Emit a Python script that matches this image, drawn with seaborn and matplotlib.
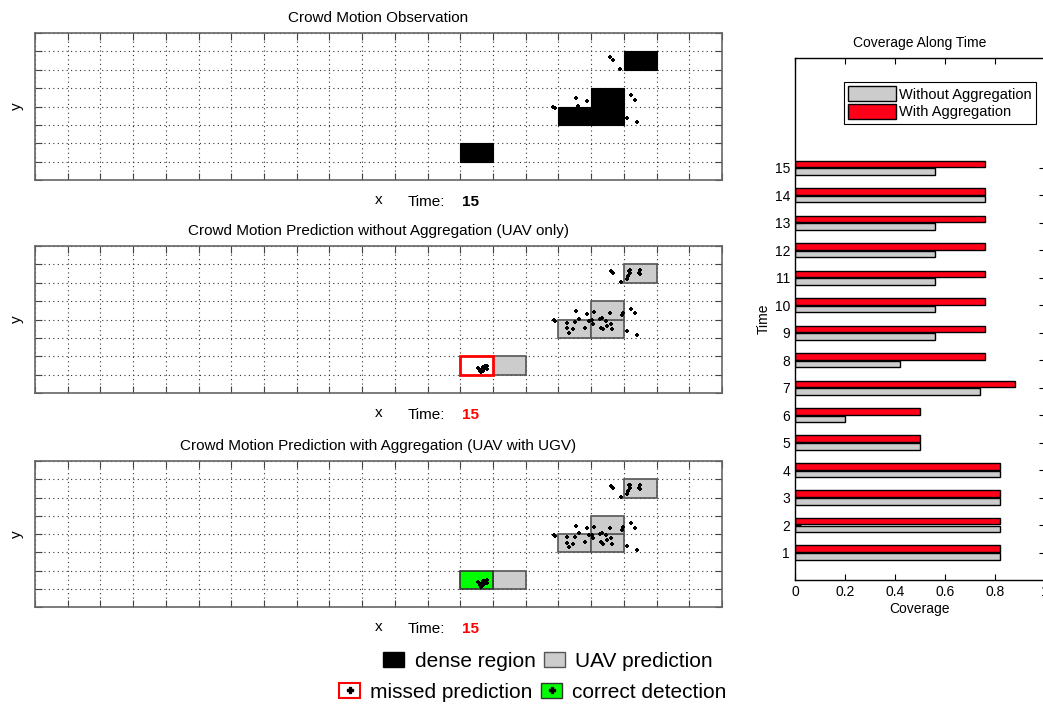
"""
Crowd motion maps at time 15 and coverage of the prediction along time.
"""

import matplotlib

matplotlib.use("Agg")

import matplotlib.pyplot as plt
import pandas as pd
import seaborn as sns
from matplotlib.lines import Line2D
from matplotlib.patches import Patch

# size of the crowd maps (cells)
n_cols = 21
n_rows = 8
time_now = 15

# dense cells seen at this time (lower-left corner of each cell)
dense_x = [18, 16, 17, 17, 13]
dense_y = [6, 3, 3, 4, 1]

# cells predicted by the UAV alone
uav_x = [18, 16, 17, 17, 14]
uav_y = [6, 3, 3, 4, 1]

# dense cell the UAV misses; found again once UGV data is aggregated
miss_x = [13]
miss_y = [1]

# people positions drawn on the observation map
obs_px = [17.58, 17.68, 17.89, 16.54, 16.88, 16.61, 15.84, 15.88,
          18.23, 18.35, 18.10, 18.41]
obs_py = [6.69, 6.53, 6.04, 4.46, 4.30, 4.03, 3.97, 3.92,
          4.63, 4.35, 3.37, 3.16]

# people positions drawn on both prediction maps
pred_px = [17.60, 17.67, 17.90, 18.14, 18.20, 18.12, 18.10, 18.18, 18.45, 18.50, 18.48,
           15.85, 15.89, 16.54, 16.62, 16.88, 17.08, 17.58, 17.96, 17.95, 18.22, 18.35,
           16.26, 16.27, 16.32, 16.43, 16.49, 16.80, 16.94, 17.03, 17.04, 17.28, 17.34,
           17.31, 17.36, 17.46, 17.49, 17.62, 17.65, 18.10, 18.40,
           13.54, 13.61, 13.66, 13.69, 13.74, 13.81, 13.82, 13.62, 13.68, 13.76]
pred_py = [6.64, 6.51, 6.02, 6.66, 6.69, 6.37, 6.22, 6.51, 6.51, 6.69, 6.46,
           3.97, 3.90, 4.44, 4.03, 4.32, 4.39, 4.35, 4.37, 4.24, 4.59, 4.35,
           3.81, 3.52, 3.27, 3.48, 3.85, 3.55, 3.92, 3.96, 3.76, 4.01, 4.08,
           3.55, 3.47, 3.92, 3.65, 3.76, 3.48, 3.37, 3.14,
           1.36, 1.21, 1.31, 1.40, 1.45, 1.47, 1.31, 1.12, 1.18, 1.34]

# coverage per time step
time_steps = list(range(1, 16))
cov_without = [0.82, 0.82, 0.82, 0.82, 0.50, 0.20, 0.74, 0.42,
               0.56, 0.56, 0.56, 0.56, 0.56, 0.76, 0.56]
cov_with = [0.82, 0.82, 0.82, 0.82, 0.50, 0.50, 0.88, 0.76,
            0.76, 0.76, 0.76, 0.76, 0.76, 0.76, 0.76]

GRAY = "#cccccc"
RED = "#ff0018"
GREEN = "#00ff00"

plt.rcParams["font.family"] = ["Liberation Sans", "DejaVu Sans"]


def draw_cells(ax, xs, ys, **kw):
    ax.bar(xs, height=1, width=1, bottom=ys, align="edge", zorder=2, **kw)


def setup_map(ax, title, time_color):
    ax.set_xlim(0, n_cols)
    ax.set_ylim(0, n_rows)
    ax.set_xticks(range(n_cols + 1))
    ax.set_yticks(range(n_rows + 1))
    ax.set_axisbelow(True)
    ax.grid(True, linestyle=(0, (1, 3)), color="#333333", linewidth=0.8)
    ax.tick_params(direction="in", length=5, top=True, right=True,
                   labelbottom=False, labelleft=False, color="#444444")
    for sp in ax.spines.values():
        sp.set_color("#666666")
        sp.set_linewidth(1.2)
    ax.set_title(title, fontsize=11, pad=8)
    ax.set_xlabel("x", fontsize=11, labelpad=9)
    ax.set_ylabel("y", fontsize=11, labelpad=8)
    ax.text(0.543, -0.177, "Time:", transform=ax.transAxes, fontsize=11,
            va="baseline", ha="left")
    ax.text(0.6215, -0.177, str(time_now), transform=ax.transAxes, fontsize=11,
            va="baseline", ha="left", color=time_color, fontweight="bold")


def main() -> None:
    fig = plt.figure(figsize=(10.43, 7.06), dpi=100)

    # observation
    ax1 = fig.add_axes([0.0336, 0.745, 0.6587, 0.2082])
    setup_map(ax1, "Crowd Motion Observation", "black")
    draw_cells(ax1, dense_x, dense_y, color="black", edgecolor="black", linewidth=0.8)
    sns.scatterplot(x=obs_px, y=obs_py, ax=ax1, color="black", marker="P",
                    s=12, linewidth=0, zorder=3)

    # prediction without aggregation
    ax2 = fig.add_axes([0.0336, 0.4433, 0.6587, 0.2082])
    setup_map(ax2, "Crowd Motion Prediction without Aggregation (UAV only)", "red")
    draw_cells(ax2, uav_x, uav_y, color=GRAY, edgecolor="#555555", linewidth=1.2)
    draw_cells(ax2, miss_x, miss_y, color="white", edgecolor="red", linewidth=2)
    sns.scatterplot(x=pred_px, y=pred_py, ax=ax2, color="black", marker="P",
                    s=12, linewidth=0, zorder=3)

    # prediction with aggregation
    ax3 = fig.add_axes([0.0336, 0.1402, 0.6587, 0.2068])
    setup_map(ax3, "Crowd Motion Prediction with Aggregation (UAV with UGV)", "red")
    draw_cells(ax3, uav_x, uav_y, color=GRAY, edgecolor="#555555", linewidth=1.2)
    draw_cells(ax3, miss_x, miss_y, color=GREEN, edgecolor="#333333", linewidth=1.2)
    sns.scatterplot(x=pred_px, y=pred_py, ax=ax3, color="black", marker="P",
                    s=12, linewidth=0, zorder=3)

    # legend under the maps
    blob = Line2D([], [], marker="P", color="black", linestyle="", markersize=5)
    fig.legend(
        handles=[Patch(facecolor="black", edgecolor="black"),
                 Patch(facecolor=GRAY, edgecolor="#555555")],
        labels=["dense region", "UAV prediction"],
        ncol=2, loc="center", bbox_to_anchor=(548 / 1043, 0.0637), frameon=False,
        fontsize=15, handlelength=1.0, handleheight=0.7, handletextpad=0.5,
        columnspacing=0.4,
    )
    fig.legend(
        handles=[(Patch(facecolor="white", edgecolor="red", linewidth=1.5), blob),
                 (Patch(facecolor=GREEN, edgecolor="#333333"), blob)],
        labels=["missed prediction", "correct detection"],
        ncol=2, loc="center", bbox_to_anchor=(533 / 1043, 0.0198), frameon=False,
        fontsize=15, handlelength=1.0, handleheight=0.7, handletextpad=0.5,
        columnspacing=0.4,
    )

    # coverage along time
    df = pd.DataFrame({
        "Time": time_steps * 2,
        "Coverage": cov_without + cov_with,
        "method": ["Without Aggregation"] * len(time_steps)
        + ["With Aggregation"] * len(time_steps),
    })
    bax = fig.add_axes([0.7622, 0.1785, 0.2397, 0.7394])
    sns.barplot(data=df, x="Coverage", y="Time", hue="method", orient="h",
                native_scale=True, width=0.56, gap=0.15, palette=[GRAY, RED],
                saturation=1, edgecolor="black", linewidth=1, errorbar=None, ax=bax)
    bax.set_xlim(0, 1)
    bax.set_ylim(0, 19)
    bax.set_yticks(time_steps)
    bax.set_xticks([0, 0.2, 0.4, 0.6, 0.8, 1])
    bax.set_xticklabels(["0", "0.2", "0.4", "0.6", "0.8", "1"])
    bax.tick_params(direction="in", length=4, top=True, right=True, labelsize=10)
    for sp in bax.spines.values():
        sp.set_color("black")
        sp.set_linewidth(1)
    bax.set_title("Coverage Along Time", fontsize=10, pad=8)
    bax.set_xlabel("Coverage", fontsize=10, labelpad=2)
    bax.set_ylabel("Time", fontsize=10, labelpad=3)
    sns.move_legend(bax, "upper right", bbox_to_anchor=(0.964, 0.954), title=None,
                    frameon=True, fancybox=False, edgecolor="black", fontsize=10.5,
                    handlelength=3.3, handleheight=1.2, borderaxespad=0,
                    borderpad=0.3, handletextpad=0.2, labelspacing=0.15, framealpha=1)
    bax.get_legend().get_frame().set_linewidth(0.8)

    fig.savefig("out.png", dpi=100)
    plt.close(fig)


if __name__ == "__main__":
    main()
